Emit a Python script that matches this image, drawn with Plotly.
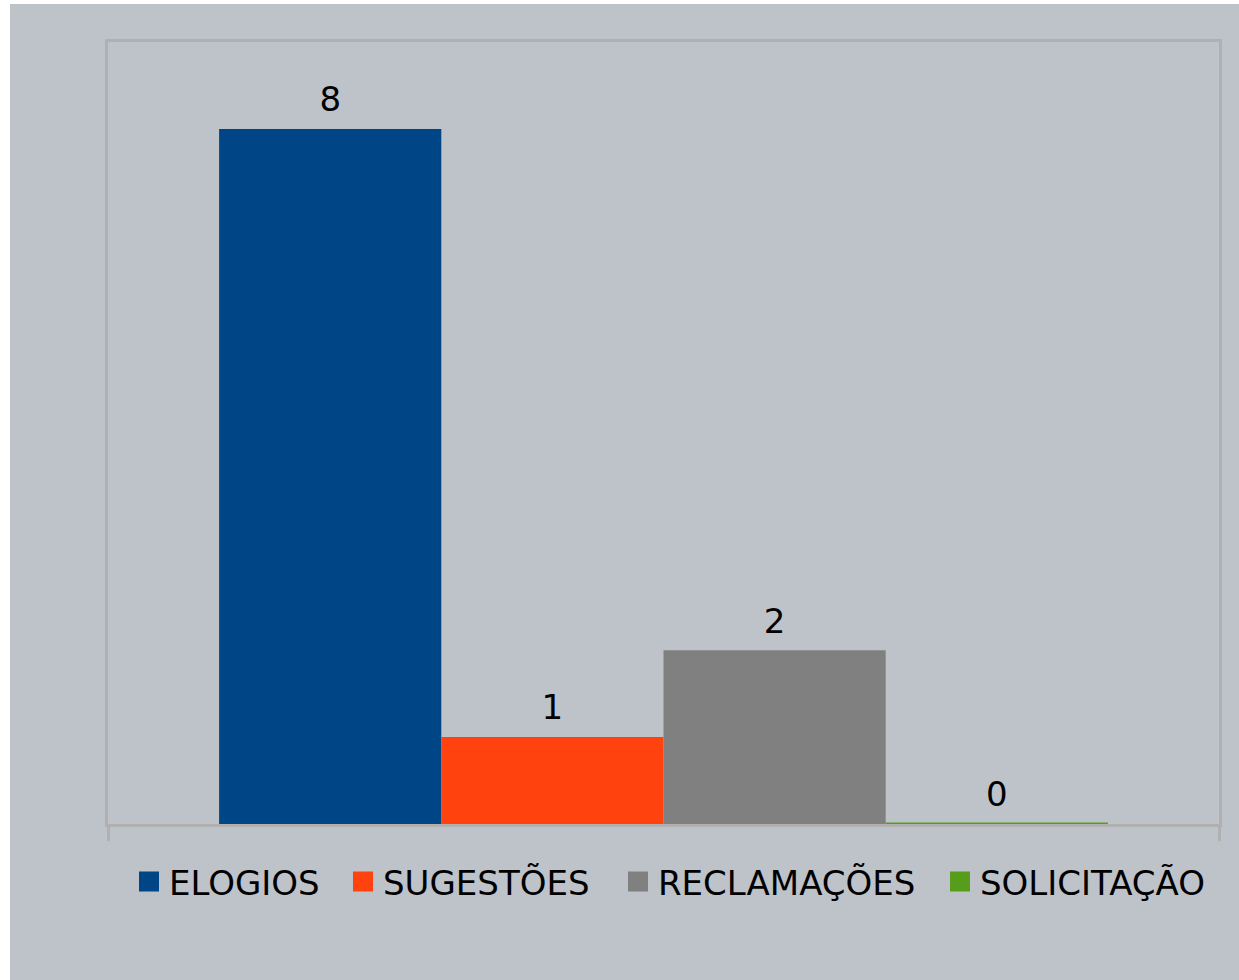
import plotly.graph_objects as go

series = ["ELOGIOS", "SUGESTÕES", "RECLAMAÇÕES", "SOLICITAÇÃO"]
values = [8, 1, 2, 0]
colors = ["#004586", "#FF420E", "#808080", "#579D1C"]
category = [""]

W, H = 1239, 980
L, R, T, B = 108, 20, 42, 156
pw, ph = W - L - R, H - T - B
bg = "#BEC2C9"
linec = "#B0B0B0"
font = "DejaVu Sans"
fs = 34

# legend symbol centres (pixels) for each legend entry
legend_px = [149, 363, 638, 960]
legend_names = ["legend", "legend2", "legend3", "legend4"]

fig = go.Figure()
for i, (name, v, c) in enumerate(zip(series, values, colors)):
    fig.add_trace(go.Bar(
        x=category, y=[v], name=name, showlegend=False, offsetgroup=str(i),
        marker=dict(color=c, line=dict(color=c, width=3 if v == 0 else 0)),
        hoverinfo="skip",
    ))
for i, (name, v, c) in enumerate(zip(series, values, colors)):
    # value labels
    fig.add_trace(go.Scatter(
        x=category, y=[v], mode="markers+text", text=[str(v)],
        textposition="top center", offsetgroup=str(i),
        marker=dict(size=13, opacity=0, color=c),
        textfont=dict(family=font, size=fs, color="black"),
        showlegend=False, cliponaxis=False, hoverinfo="skip",
    ))
    # legend entry
    fig.add_trace(go.Scatter(
        x=[None], y=[None], mode="markers", name=name, offsetgroup=str(i),
        marker=dict(symbol="square", size=16, color=c,
                    line=dict(color=c, width=4)),
        legend=legend_names[i], showlegend=True,
    ))

leg_y = -(882 - (T + ph)) / ph
legends = {}
for i, ln in enumerate(legend_names):
    legends[ln] = dict(orientation="h", x=(legend_px[i] - 20 - L) / pw,
                       xanchor="left", y=leg_y, yanchor="middle",
                       font=dict(family=font, size=fs, color="black"),
                       bgcolor="rgba(0,0,0,0)", borderwidth=0)

fig.update_layout(
    width=W, height=H,
    margin=dict(l=L, r=R, t=T, b=B),
    paper_bgcolor=bg, plot_bgcolor=bg,
    barmode="group", bargap=0.2, bargroupgap=0,
    scattermode="group", scattergap=0.2,
    showlegend=True,
    xaxis=dict(showline=True, mirror=True, linecolor=linec, linewidth=3,
               showticklabels=False, ticks="outside", tickson="boundaries",
               ticklen=14, tickwidth=3, tickcolor=linec, showgrid=False,
               zeroline=False),
    yaxis=dict(range=[0, 9], showline=True, mirror=True, linecolor=linec,
               linewidth=3, showticklabels=False, ticks="", showgrid=False,
               zeroline=False),
    shapes=[
        dict(type="rect", xref="paper", yref="paper",
             x0=-L / pw, x1=(10 - L) / pw, y0=-B / ph, y1=1 + T / ph,
             fillcolor="white", line=dict(width=0), layer="above"),
        dict(type="rect", xref="paper", yref="paper",
             x0=-L / pw, x1=1 + R / pw, y0=1 + (T - 4) / ph, y1=1 + T / ph,
             fillcolor="white", line=dict(width=0), layer="above"),
    ],
    **legends,
)

fig.write_html("out.html", config={"displayModeBar": False},
               post_script="document.body.style.margin='0px';")
